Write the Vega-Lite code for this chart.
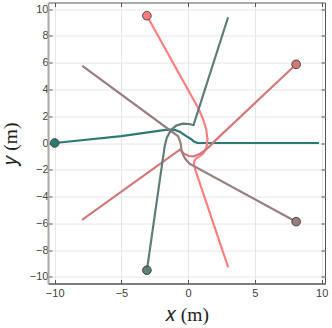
{
  "$schema": "https://vega.github.io/schema/vega-lite/v6.json",
  "width": 277,
  "height": 281,
  "autosize": "none",
  "padding": {"left": 48, "top": 2.5, "right": 7, "bottom": 44.5},
  "background": "white",
  "config": {
    "view": {"stroke": "#555555", "strokeWidth": 1},
    "axis": {
      "labelFont": "Liberation Sans",
      "labelFontSize": 11,
      "labelColor": "#404040",
      "tickColor": "#555555",
      "tickSize": -4,
      "tickWidth": 1,
      "domainColor": "#555555",
      "gridColor": "#e6e6e6",
      "titleFont": "Liberation Serif",
      "titleFontSize": 19.5,
      "titleFontWeight": "normal",
      "titleColor": "#222222"
    }
  },
  "datasets": {
    "paths": [
      {"agent": "a1", "i": 0, "x": -10, "y": 0},
      {"agent": "a1", "i": 1, "x": -5, "y": 0.52},
      {"agent": "a1", "i": 2, "x": -2.1, "y": 0.92},
      {"agent": "a1", "i": 3, "x": -1.5, "y": 1.0},
      {"agent": "a1", "i": 4, "x": -1.0, "y": 0.98},
      {"agent": "a1", "i": 5, "x": -0.6, "y": 0.82},
      {"agent": "a1", "i": 6, "x": -0.2, "y": 0.55},
      {"agent": "a1", "i": 7, "x": 0.2, "y": 0.3},
      {"agent": "a1", "i": 8, "x": 0.45, "y": 0.1},
      {"agent": "a1", "i": 9, "x": 0.7, "y": 0.01},
      {"agent": "a1", "i": 10, "x": 1.2, "y": 0},
      {"agent": "a1", "i": 11, "x": 9.8, "y": 0},
      {"agent": "a2", "i": 0, "x": -3.09, "y": 9.51},
      {"agent": "a2", "i": 1, "x": 0.82, "y": 2.48},
      {"agent": "a2", "i": 2, "x": 1.15, "y": 1.7},
      {"agent": "a2", "i": 3, "x": 1.35, "y": 1.0},
      {"agent": "a2", "i": 4, "x": 1.45, "y": 0.3},
      {"agent": "a2", "i": 5, "x": 1.38, "y": -0.3},
      {"agent": "a2", "i": 6, "x": 1.15, "y": -0.75},
      {"agent": "a2", "i": 7, "x": 0.85, "y": -1.0},
      {"agent": "a2", "i": 8, "x": 0.6, "y": -1.15},
      {"agent": "a2", "i": 9, "x": 0.43, "y": -1.4},
      {"agent": "a2", "i": 10, "x": 0.45, "y": -1.7},
      {"agent": "a2", "i": 11, "x": 0.6, "y": -2.2},
      {"agent": "a2", "i": 12, "x": 3.0, "y": -9.3},
      {"agent": "a3", "i": 0, "x": 8.09, "y": 5.88},
      {"agent": "a3", "i": 1, "x": 2.1, "y": 0.25},
      {"agent": "a3", "i": 2, "x": 1.6, "y": -0.25},
      {"agent": "a3", "i": 3, "x": 1.2, "y": -0.6},
      {"agent": "a3", "i": 4, "x": 0.82, "y": -0.85},
      {"agent": "a3", "i": 5, "x": 0.4, "y": -1.0},
      {"agent": "a3", "i": 6, "x": 0.05, "y": -0.97},
      {"agent": "a3", "i": 7, "x": -0.3, "y": -0.8},
      {"agent": "a3", "i": 8, "x": -0.62, "y": -0.5},
      {"agent": "a3", "i": 9, "x": -7.95, "y": -5.75},
      {"agent": "a4", "i": 0, "x": 8.09, "y": -5.88},
      {"agent": "a4", "i": 1, "x": 0.1, "y": -1.55},
      {"agent": "a4", "i": 2, "x": -0.2, "y": -1.2},
      {"agent": "a4", "i": 3, "x": -0.4, "y": -0.85},
      {"agent": "a4", "i": 4, "x": -0.5, "y": -0.5},
      {"agent": "a4", "i": 5, "x": -0.57, "y": 0},
      {"agent": "a4", "i": 6, "x": -0.75, "y": 0.5},
      {"agent": "a4", "i": 7, "x": -7.93, "y": 5.77},
      {"agent": "a5", "i": 0, "x": -3.09, "y": -9.51},
      {"agent": "a5", "i": 1, "x": -2.12, "y": -2.74},
      {"agent": "a5", "i": 2, "x": -1.75, "y": -0.2},
      {"agent": "a5", "i": 3, "x": -1.6, "y": 0.4},
      {"agent": "a5", "i": 4, "x": -1.3, "y": 0.95},
      {"agent": "a5", "i": 5, "x": -0.9, "y": 1.3},
      {"agent": "a5", "i": 6, "x": -0.4, "y": 1.44},
      {"agent": "a5", "i": 7, "x": 0.1, "y": 1.42},
      {"agent": "a5", "i": 8, "x": 0.4, "y": 1.33},
      {"agent": "a5", "i": 9, "x": 2.99, "y": 9.4}
    ],
    "starts": [
      {"agent": "a1", "x": -10, "y": 0},
      {"agent": "a2", "x": -3.09, "y": 9.51},
      {"agent": "a3", "x": 8.09, "y": 5.88},
      {"agent": "a4", "x": 8.09, "y": -5.88},
      {"agent": "a5", "x": -3.09, "y": -9.51}
    ]
  },
  "layer": [
    {
      "data": {"name": "paths"},
      "mark": {"type": "line", "strokeWidth": 2.2, "clip": true},
      "encoding": {
        "x": {
          "field": "x", "type": "quantitative",
          "scale": {"domain": [-10.5, 10.25], "nice": false, "zero": false},
          "axis": {"orient": "bottom", "values": [-10, -5, 0, 5, 10], "title": "𝑥 (m)", "titlePadding": 7, "labelPadding": 8, "domainColor": "#555555"}
        },
        "y": {
          "field": "y", "type": "quantitative",
          "scale": {"domain": [-10.5, 10.5], "nice": false, "zero": false},
          "axis": {"orient": "left", "values": [-10, -8, -6, -4, -2, 0, 2, 4, 6, 8, 10], "title": "𝑦 (m)", "titlePadding": 9, "labelPadding": 4, "domainColor": "#a8a8a8", "domainWidth": 2}
        },
        "color": {
          "field": "agent", "type": "nominal", "legend": null,
          "scale": {"domain": ["a1", "a2", "a3", "a4", "a5"], "range": ["#2e7b74", "#ff7f7f", "#d27a78", "#9b7e7e", "#5f7d79"]}
        },
        "order": {"field": "i", "type": "quantitative"}
      }
    },
    {
      "data": {"name": "starts"},
      "mark": {"type": "circle", "size": 75, "opacity": 1, "stroke": "#2a2a2a", "strokeWidth": 0.8},
      "encoding": {
        "x": {
          "field": "x", "type": "quantitative",
          "axis": {"orient": "top", "values": [-10, -5, 0, 5, 10], "labels": false, "title": null, "grid": false, "domain": false}
        },
        "y": {
          "field": "y", "type": "quantitative",
          "axis": {"orient": "right", "values": [-10, -8, -6, -4, -2, 0, 2, 4, 6, 8, 10], "labels": false, "title": null, "grid": false, "domain": false}
        },
        "color": {"field": "agent", "type": "nominal", "legend": null}
      }
    }
  ],
  "resolve": {"axis": {"x": "independent", "y": "independent"}}
}
